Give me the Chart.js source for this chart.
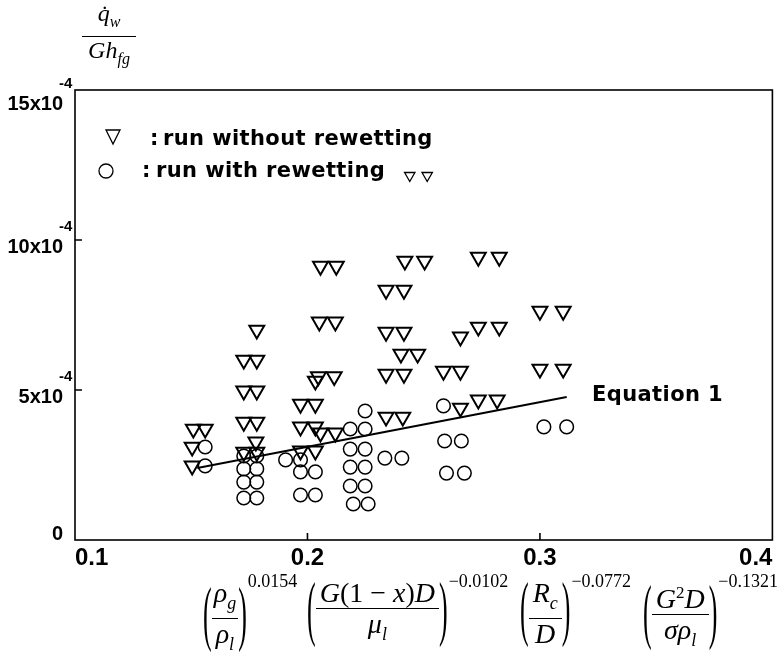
<!DOCTYPE html>
<html>
<head>
<meta charset="utf-8">
<script src="https://cdn.jsdelivr.net/npm/chart.js@4.4.1/dist/chart.umd.min.js"></script>
<style>
  body { margin: 0; background: #fff; overflow: hidden; }
  #wrap { position: relative; width: 783px; height: 662px; }
  #ylab { position: absolute; left: 82px; top: 0px; width: 54px; text-align: center;
          font: italic 24px "Liberation Serif", serif; line-height: 27px; }
  #ylab .n { border-bottom: 1.5px solid #000; padding-bottom: 1px; }
  #ylab sub { font-size: 16px; }
  .term { position: absolute; top: 579px; display: flex; align-items: center;
          font: 28px "Liberation Serif", serif; white-space: nowrap; }
  .p { display: inline-block; font-size: 26px; line-height: 1; transform: translateY(-3px) scaleY(2.75); }
  .fr { display: inline-flex; flex-direction: column; align-items: center; line-height: 28px; }
  .fr > span:first-child { border-bottom: 1.4px solid #000; padding: 0 4px 1px; }
  .fr > span:last-child { padding-top: 1px; }
  .fr.tight > span:first-child { padding: 0 2px 1px; }
  .fr sub { font-size: 18px; }
  .fr sup { font-size: 17px; }
  .ex { align-self: flex-start; font-size: 18px; margin-top: -8px; margin-left: 1px; }
</style>
</head>
<body>
<div id="wrap">
  <canvas id="chart" width="783" height="662"></canvas>
  <div id="ylab">
    <div class="n">q&#775;<sub>w</sub></div>
    <div>Gh<sub>fg</sub></div>
  </div>
  <span class="term" style="left:203px"><span class="p">(</span><span class="fr tight"><span><i>ρ</i><sub><i>g</i></sub></span><span><i>ρ</i><sub><i>l</i></sub></span></span><span class="p">)</span><span class="ex">0.0154</span></span>
  <span class="term" style="left:307px"><span class="p">(</span><span class="fr"><span><i>G</i>(1 − <i>x</i>)<i>D</i></span><span><i>μ</i><sub><i>l</i></sub></span></span><span class="p">)</span><span class="ex">−0.0102</span></span>
  <span class="term" style="left:520px"><span class="p">(</span><span class="fr"><span><i>R</i><sub><i>c</i></sub></span><span><i>D</i></span></span><span class="p">)</span><span class="ex">−0.0772</span></span>
  <span class="term" style="left:643px"><span class="p">(</span><span class="fr"><span><i>G</i><sup>2</sup><i>D</i></span><span><i>σ</i><i>ρ</i><sub><i>l</i></sub></span></span><span class="p">)</span><span class="ex">−0.1321</span></span>
</div>
<script>
// y values are in units of 10^-4
const triX = [0.2056, 0.2124, 0.2419, 0.2504, 0.2735, 0.2825, 0.2338, 0.2415, 0.2051, 0.2120,
  0.1782, 0.2338, 0.2415, 0.2735, 0.2825, 0.2658, 0.3000, 0.3100, 0.2402, 0.2474,
  0.1726, 0.1782, 0.2338, 0.2415, 0.2585, 0.2658, 0.3000, 0.3100, 0.2034, 0.2047,
  0.2115, 0.1726, 0.1782, 0.1970, 0.2034, 0.2338, 0.2410, 0.2658, 0.2735, 0.2816,
  0.1509, 0.1560, 0.1726, 0.1782, 0.1970, 0.2034, 0.2056, 0.2120, 0.1504, 0.1778,
  0.1726, 0.1782, 0.1970, 0.2034, 0.1504];
const triY = [9.13, 9.13, 9.30, 9.30, 9.43, 9.43, 8.33, 8.33, 7.27, 7.27,
  7.00, 6.93, 6.93, 7.10, 7.10, 6.77, 7.63, 7.63, 6.20, 6.20,
  6.00, 6.00, 5.53, 5.53, 5.63, 5.63, 5.70, 5.70, 5.30, 5.45,
  5.45, 4.97, 4.97, 4.53, 4.53, 4.10, 4.10, 4.40, 4.67, 4.67,
  3.70, 3.70, 3.93, 3.93, 3.77, 3.77, 3.57, 3.57, 3.10, 3.27,
  2.93, 2.93, 2.97, 2.97, 2.47];
const smallTriX = [0.2440, 0.2515];
const smallTriY = [12.15, 12.15];
const circX = [0.2248, 0.2585, 0.2184, 0.2248, 0.1560, 0.1560, 0.1726, 0.1782, 0.1726, 0.1782,
  0.1726, 0.1782, 0.1726, 0.1782, 0.1906, 0.1970, 0.1970, 0.2034, 0.1970, 0.2034,
  0.2184, 0.2248, 0.2184, 0.2248, 0.2184, 0.2248, 0.2197, 0.2261, 0.2333, 0.2406,
  0.2590, 0.2662, 0.2598, 0.2675, 0.3017, 0.3115];
const circY = [4.30, 4.47, 3.70, 3.70, 3.10, 2.47, 2.80, 2.80, 2.37, 2.37,
  1.93, 1.93, 1.40, 1.40, 2.67, 2.67, 2.27, 2.27, 1.50, 1.50,
  3.03, 3.03, 2.43, 2.43, 1.80, 1.80, 1.20, 1.20, 2.73, 2.73,
  3.30, 3.30, 2.23, 2.23, 3.77, 3.77];
const eqX = [0.1526, 0.3115];
const eqY = [2.40, 4.77];
const xTicks = [0.1, 0.2, 0.3, 0.4];
const yTicks = [0, 5, 10, 15];
const legendLabels = ['run without rewetting', 'run with rewetting'];
const eqLabel = 'Equation 1';

const pts = (xs, ys) => xs.map((x, i) => ({ x: x, y: ys[i] }));
const clear = 'rgba(0,0,0,0)';

const decor = {
  id: 'decor',
  afterDraw(chart) {
    const { ctx, chartArea: a, scales: { x, y } } = chart;
    ctx.save();
    ctx.strokeStyle = '#000';
    ctx.fillStyle = '#000';
    ctx.lineWidth = 1.6;
    ctx.strokeRect(a.left, a.top, a.right - a.left, a.bottom - a.top);

    // inward tick marks
    ctx.beginPath();
    xTicks.forEach(v => {
      if (v > x.min && v < x.max) {
        const px = x.getPixelForValue(v);
        ctx.moveTo(px, a.bottom); ctx.lineTo(px, a.bottom - 7);
      }
    });
    yTicks.forEach(v => {
      if (v > y.min && v < y.max) {
        const py = y.getPixelForValue(v);
        ctx.moveTo(a.left, py); ctx.lineTo(a.left + 7, py);
      }
    });
    ctx.stroke();

    // y tick labels with 10^-4 exponent
    ctx.textBaseline = 'middle';
    yTicks.forEach(v => {
      const py = y.getPixelForValue(v);
      ctx.font = 'bold 20px "Liberation Sans"';
      ctx.textAlign = 'right';
      if (v === 0) {
        ctx.fillText('0', 63, py - 6);
      } else {
        const off = v === y.max ? 14 : 7;
        ctx.fillText(v + 'x10', 63, py + off);
        ctx.font = 'bold 15px "Liberation Sans"';
        ctx.textAlign = 'left';
        ctx.fillText('-4', 59, py + off - 20);
      }
    });

    // legend
    ctx.lineWidth = 1.3;
    ctx.beginPath();
    ctx.moveTo(106, 130); ctx.lineTo(120, 130); ctx.lineTo(113, 144); ctx.closePath();
    ctx.stroke();
    ctx.beginPath();
    ctx.arc(106, 171, 7, 0, Math.PI * 2);
    ctx.stroke();
    ctx.font = 'bold 21px "DejaVu Sans"';
    ctx.textAlign = 'left';
    ctx.textBaseline = 'alphabetic';
    ctx.letterSpacing = '0.4px';
    ctx.fillText(':', 150, 145);
    ctx.fillText(legendLabels[0], 163, 145);
    ctx.fillText(':', 142, 177);
    ctx.fillText(legendLabels[1], 156, 177);
    ctx.fillText(eqLabel, 592, 401);
    ctx.restore();
  }
};

new Chart(document.getElementById('chart'), {
  type: 'scatter',
  data: {
    datasets: [
      {
        type: 'line', data: pts(eqX, eqY), showLine: true, pointRadius: 0,
        borderColor: '#000', borderWidth: 2
      },
      {
        data: pts(circX, circY), pointStyle: 'circle', pointRadius: 6.8,
        borderColor: '#000', backgroundColor: clear, borderWidth: 1.5
      },
      {
        data: pts(triX, triY), pointStyle: 'triangle', rotation: 180, pointRadius: 8.6,
        borderColor: '#000', backgroundColor: clear, borderWidth: 2
      },
      {
        data: pts(smallTriX, smallTriY), pointStyle: 'triangle', rotation: 180, pointRadius: 6,
        borderColor: '#000', backgroundColor: clear, borderWidth: 1.3
      }
    ]
  },
  options: {
    responsive: false,
    animation: false,
    layout: { padding: { top: 90, right: 6, left: 0, bottom: 0 } },
    plugins: { legend: { display: false }, tooltip: { enabled: false } },
    scales: {
      x: {
        type: 'linear', min: 0.1, max: 0.4,
        afterFit: s => { s.height = 122; },
        grid: { display: false, drawTicks: false },
        border: { display: false },
        afterBuildTicks: s => { s.ticks = xTicks.map(v => ({ value: v })); },
        ticks: {
          align: 'inner', padding: 4, color: '#000',
          font: { family: 'Liberation Sans', weight: 'bold', size: 24 },
          callback: v => v.toFixed(1)
        }
      },
      y: {
        min: 0, max: 15,
        afterFit: s => { s.width = 75; },
        grid: { display: false, drawTicks: false },
        border: { display: false },
        ticks: { display: false, stepSize: 5 }
      }
    }
  },
  plugins: [decor]
});
</script>
</body>
</html>
